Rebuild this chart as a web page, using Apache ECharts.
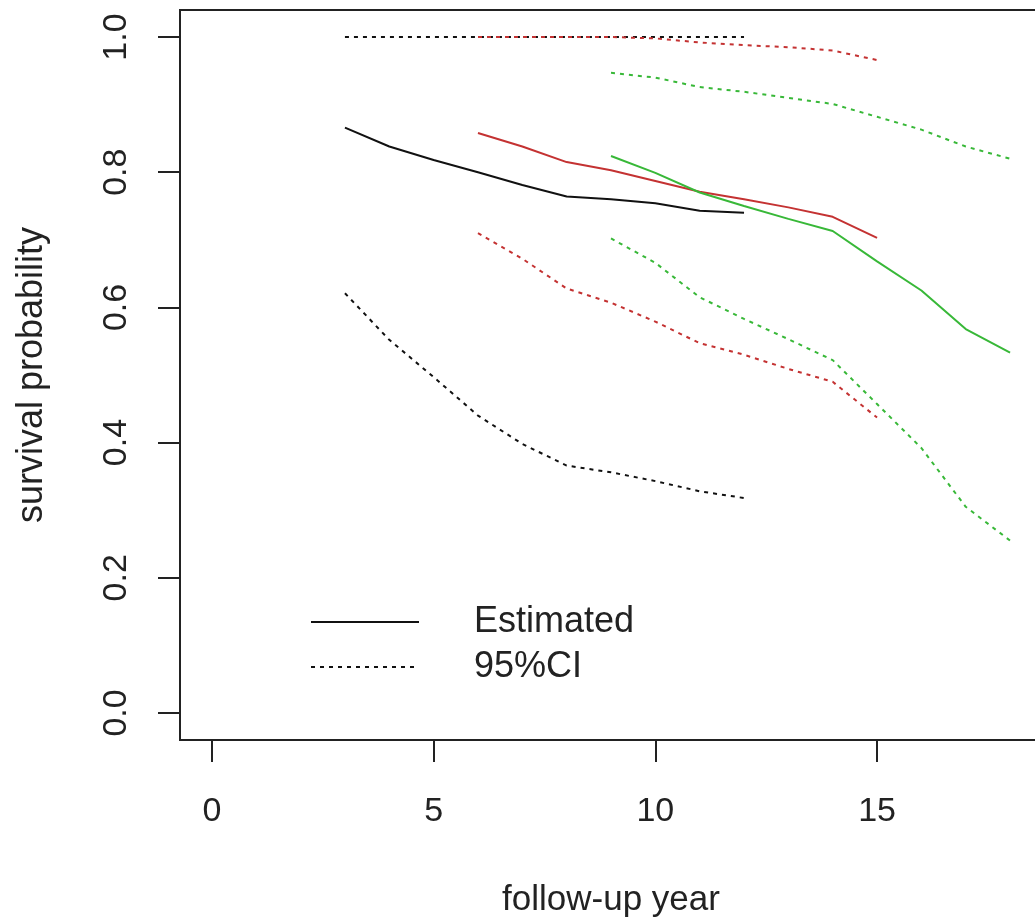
<!DOCTYPE html>
<html>
<head>
<meta charset="utf-8">
<title>survival probability</title>
<script src="https://cdn.jsdelivr.net/npm/echarts@6/dist/echarts.min.js"></script>
<style>
    html, body {margin: 0; padding: 0; background: #fff;}
    #chart {width: 1035px; height: 919px;}
</style>
</head>
<body>
<div id="chart"></div>
<script>
// 随访年份 / 生存概率
let blackYears = [3, 4, 5, 6, 7, 8, 9, 10, 11, 12];
let blackEst   = [0.866, 0.838, 0.818, 0.800, 0.781, 0.764, 0.760, 0.754, 0.743, 0.740];
let blackLow   = [0.621, 0.552, 0.497, 0.440, 0.398, 0.366, 0.356, 0.343, 0.328, 0.318];
let blackUp    = [1.0, 1.0, 1.0, 1.0, 1.0, 1.0, 1.0, 1.0, 1.0, 1.0];

let redYears = [6, 7, 8, 9, 10, 11, 12, 13, 14, 15];
let redEst   = [0.858, 0.838, 0.815, 0.803, 0.787, 0.771, 0.760, 0.748, 0.734, 0.703];
let redLow   = [0.710, 0.672, 0.628, 0.607, 0.579, 0.547, 0.530, 0.509, 0.490, 0.437];
let redUp    = [1.0, 1.0, 1.0, 1.0, 0.998, 0.992, 0.988, 0.985, 0.980, 0.966];

let greenYears = [9, 10, 11, 12, 13, 14, 15, 16, 17, 18];
let greenEst   = [0.824, 0.799, 0.770, 0.750, 0.731, 0.713, 0.668, 0.625, 0.568, 0.533];
let greenLow   = [0.702, 0.666, 0.615, 0.583, 0.553, 0.522, 0.457, 0.392, 0.305, 0.255];
let greenUp    = [0.947, 0.940, 0.926, 0.919, 0.910, 0.901, 0.882, 0.863, 0.838, 0.820];

let xTicks = [0, 5, 10, 15];
let yTicks = [0, 0.2, 0.4, 0.6, 0.8, 1.0];
let legendNames = ['Estimated', '95%CI'];

const FONT = 'Liberation Sans, Arial, sans-serif';
const DOTTED = [4, 5];

function pairs(xs, ys) {
    return xs.map((x, i) => [x, ys[i]]);
}

function curve(xs, ys, color, dotted) {
    return {
        type: 'line',
        data: pairs(xs, ys),
        showSymbol: false,
        symbol: 'none',
        silent: true,
        lineStyle: {color: color, width: 2, type: dotted ? DOTTED : 'solid'}
    };
}

let series = [
    curve(blackYears, blackEst, '#111', false),
    curve(blackYears, blackLow, '#111', true),
    curve(blackYears, blackUp, '#111', true),
    curve(redYears, redEst, '#c43232', false),
    curve(redYears, redLow, '#c43232', true),
    curve(redYears, redUp, '#c43232', true),
    curve(greenYears, greenEst, '#38b838', false),
    curve(greenYears, greenLow, '#38b838', true),
    curve(greenYears, greenUp, '#38b838', true),
    //图例用的空系列
    {name: legendNames[0], type: 'line', data: [], symbol: 'none', lineStyle: {color: '#111', width: 2, type: 'solid'}, itemStyle: {color: '#111'}},
    {name: legendNames[1], type: 'line', data: [], symbol: 'none', lineStyle: {color: '#111', width: 2, type: DOTTED}, itemStyle: {color: '#111'}}
];

let option = {
    animation: false,
    backgroundColor: '#fff',
    grid: {
        left: 180,
        top: 10,
        width: 862,
        height: 730,
        outerBoundsMode: 'none',
        show: true,
        borderColor: '#222',
        borderWidth: 2,
        backgroundColor: 'transparent'
    },
    legend: {
        data: legendNames,
        orient: 'vertical',
        left: 305,
        top: 599,
        padding: 5,
        itemWidth: 108,
        itemHeight: 2,
        itemGap: 9,
        selectedMode: false,
        itemStyle: {opacity: 0},
        textStyle: {
            fontFamily: FONT,
            fontSize: 36,
            color: '#222',
            lineHeight: 34,
            padding: [0, 0, 0, 50]
        }
    },
    xAxis: {
        type: 'value',
        min: -0.72,
        max: 18.72,
        name: 'follow-up year',
        nameLocation: 'middle',
        nameGap: 143,
        nameTextStyle: {fontFamily: FONT, fontSize: 35, color: '#222'},
        splitLine: {show: false},
        axisLine: {show: false, onZero: false},
        axisTick: {show: true, inside: false, length: 22, customValues: xTicks, lineStyle: {color: '#222', width: 2}},
        axisLabel: {customValues: xTicks, margin: 55, fontFamily: FONT, fontSize: 34, color: '#222'}
    },
    yAxis: {
        type: 'value',
        min: -0.04,
        max: 1.04,
        name: 'survival probability',
        nameLocation: 'middle',
        nameGap: 130,
        nameRotate: 90,
        nameTextStyle: {fontFamily: FONT, fontSize: 36, color: '#222'},
        splitLine: {show: false},
        axisLine: {show: false, onZero: false},
        axisTick: {show: true, inside: false, length: 22, customValues: yTicks, lineStyle: {color: '#222', width: 2}},
        axisLabel: {
            customValues: yTicks,
            rotate: 90,
            margin: 46,
            fontFamily: FONT,
            fontSize: 34,
            color: '#222',
            formatter: (v) => v.toFixed(1)
        }
    },
    series: series
};

echarts.init(document.getElementById('chart')).setOption(option);
</script>
</body>
</html>
